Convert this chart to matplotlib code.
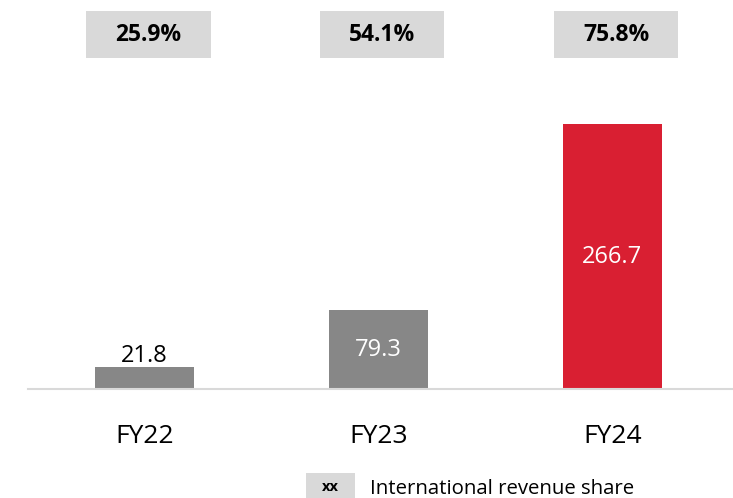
import matplotlib.pyplot as plt
from matplotlib.patches import Rectangle
import matplotlib.transforms as mtransforms

plt.rcParams['font.family'] = ['Open Sans', 'DejaVu Sans']

# data
years = ['FY22', 'FY23', 'FY24']
revenue = [21.8, 79.3, 266.7]
intl_share = ['25.9%', '54.1%', '75.8%']
bar_colors = ['#878787', '#878787', '#D91F32']

fig = plt.figure(figsize=(7.33, 4.98), dpi=100)
W, H = 733, 498
# axes: baseline at y=389px, spanning x 28..733px
ax = fig.add_axes([28 / W, (H - 389) / H, (733 - 28) / W, 389 / H])

x = list(range(len(years)))
bars = ax.bar(x, revenue, width=0.423, color=bar_colors, zorder=2)
ax.set_xlim(-0.498, 2.515)
ax.set_ylim(0, 391.5)

# value labels: inside the bar if there is room, otherwise on top
for xi, val, b in zip(x, revenue, bars):
    if val > 50:
        ax.text(xi, val / 2, f'{val:.1f}', ha='center', va='center',
                color='white', fontsize=17)
    else:
        ax.text(xi, val - 1, f'{val:.1f}', ha='center', va='bottom',
                color='black', fontsize=17)

# international revenue share boxes across the top
trans = mtransforms.blended_transform_factory(ax.transData, ax.transAxes)
for xi, s in zip(x, intl_share):
    cx = xi + 0.017
    ax.add_patch(Rectangle((cx - 0.265, 0.851), 0.53, 0.121, transform=trans,
                           facecolor='#D9D9D9', edgecolor='none', clip_on=False))
    ax.text(cx, 0.911, s, transform=trans, ha='center', va='center',
            fontsize=16.5, fontweight='bold', color='black')

for side in ['top', 'right', 'left']:
    ax.spines[side].set_visible(False)
ax.spines['bottom'].set_color('#D9D9D9')
ax.spines['bottom'].set_linewidth(1.5)
ax.set_yticks([])
ax.set_xticks(x)
ax.set_xticklabels(years, fontsize=19)
ax.tick_params(axis='x', length=0, pad=25)

# legend
fig.patches.append(Rectangle((306 / W, 0), 49 / W, 25 / H, transform=fig.transFigure,
                             facecolor='#D9D9D9', edgecolor='none'))
fig.text(330.5 / W, 1 - 487 / H, 'xx', ha='center', va='center',
         fontsize=10.5, fontweight='bold')
fig.text(370 / W, 1 - 489 / H, 'International revenue share', ha='left', va='center',
         fontsize=14.7)

plt.savefig('out.png', dpi=100)
